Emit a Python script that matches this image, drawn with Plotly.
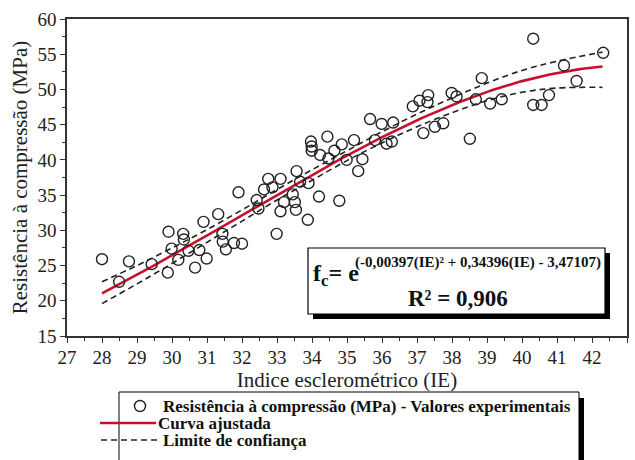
import numpy as np
import plotly.graph_objects as go

# Experimental values: rebound index (IE) and compressive strength (MPa)
ie_exp = [28.0, 28.49, 28.77, 29.42, 29.88, 29.9, 29.99, 30.18, 30.32, 30.34, 30.47,
          30.66, 30.78, 30.9, 30.99, 31.32, 31.44, 31.45, 31.54, 31.77, 31.9, 32.0,
          32.42, 32.47, 32.63, 32.75, 32.87, 32.99, 33.1, 33.1, 33.2, 33.45, 33.51,
          33.54, 33.56, 33.66, 33.88, 33.9, 33.97, 33.99, 33.99, 34.2, 34.23, 34.44,
          34.47, 34.64, 34.78, 34.85, 34.99, 35.2, 35.32, 35.44, 35.66, 35.8, 35.99,
          36.13, 36.28, 36.32, 36.88, 37.07, 37.18, 37.3, 37.32, 37.51, 37.75, 37.99,
          38.13, 38.51, 38.68, 38.85, 39.09, 39.42, 40.32, 40.32, 40.56, 40.77, 41.2,
          41.56, 42.32]
fc_exp = [25.9, 22.7, 25.6, 25.2, 24.0, 29.8, 27.4, 25.8, 29.5, 28.7, 27.1,
          24.7, 27.2, 31.2, 26.0, 32.3, 29.5, 28.4, 27.3, 28.2, 35.4, 28.1,
          34.3, 33.1, 35.8, 37.3, 36.1, 29.5, 37.3, 32.7, 34.0, 35.1, 34.0,
          32.9, 38.4, 36.9, 31.5, 36.7, 42.6, 41.9, 41.3, 34.8, 40.7, 43.3,
          40.2, 41.3, 34.2, 42.2, 40.0, 42.8, 38.4, 40.1, 45.8, 42.8, 45.1,
          42.3, 42.6, 45.3, 47.6, 48.4, 43.8, 48.2, 49.2, 44.7, 45.2, 49.5,
          49.0, 43.0, 48.6, 51.6, 48.0, 48.6, 47.8, 57.2, 47.8, 49.2, 53.4,
          51.2, 55.2]

# Fitted model coefficients: fc = exp(a*IE^2 + b*IE + c)
coef_a, coef_b, coef_c = -0.00397, 0.34396, -3.47107

# Confidence limits
ie_band = [28, 29, 30, 31, 32, 33, 34, 35, 36, 37, 38, 39, 40, 41, 42.3]
band_upper = [22.7, 25.0, 27.5, 30.1, 32.9, 35.8, 38.6, 41.3, 44.0, 46.5,
              48.8, 50.9, 52.7, 54.0, 55.3]
band_lower = [19.6, 22.4, 25.3, 28.3, 31.3, 34.3, 37.1, 39.9, 42.4, 44.7,
              46.7, 48.4, 49.6, 50.2, 50.3]

# Legend labels
legend_labels = ["Resistência à compressão (MPa) - Valores experimentais",
                 "Curva ajustada",
                 "Limite de confiança"]

ie_fit = np.linspace(28, 42.3, 200)
fc_fit = np.exp(coef_a * ie_fit ** 2 + coef_b * ie_fit + coef_c)

SERIF = "Times New Roman, Liberation Serif, Times, serif"
RED = "#c8102e"
INK = "#222222"
DASH = "6px,4px"

fig = go.Figure()
fig.add_trace(go.Scatter(
    x=ie_band, y=band_upper, mode="lines", name=legend_labels[2],
    line=dict(color=INK, width=1.6, dash=DASH), line_shape="spline"))
fig.add_trace(go.Scatter(
    x=ie_band, y=band_lower, mode="lines", name=legend_labels[2],
    line=dict(color=INK, width=1.6, dash=DASH), line_shape="spline"))
fig.add_trace(go.Scatter(
    x=ie_fit, y=fc_fit, mode="lines", name=legend_labels[1],
    line=dict(color=RED, width=2.6)))
fig.add_trace(go.Scatter(
    x=ie_exp, y=fc_exp, mode="markers", name=legend_labels[0],
    marker=dict(symbol="circle-open", size=11, color=INK,
                line=dict(width=1.4, color=INK))))

axis_common = dict(
    showline=True, linecolor="#333333", linewidth=1.5, mirror=True,
    ticks="outside", ticklen=5, tickwidth=1.3, tickcolor="#333333",
    showgrid=False, zeroline=False, automargin=False,
    tickfont=dict(family=SERIF, size=19, color=INK),
)

fig.update_xaxes(
    range=[27, 43], tickmode="linear", tick0=27, dtick=1,
    minor=dict(dtick=0.5, ticks="outside", ticklen=3, tickcolor="#333333"),
    ticklabelstandoff=-2,
    title=dict(text="Indice esclerométrico (IE)",
               font=dict(family=SERIF, size=21, color=INK), standoff=2),
    **axis_common)
fig.update_yaxes(
    range=[15, 60], tickmode="linear", tick0=15, dtick=5,
    minor=dict(dtick=2.5, ticks="outside", ticklen=3, tickcolor="#333333"),
    title=dict(text="Resistência à compressão (MPa)",
               font=dict(family=SERIF, size=21, color=INK), standoff=4),
    **axis_common)

# Plot area in pixels, used to place the boxes in paper units
PL, PR, PT, PB = 67, 627, 19, 336
def px(x):
    return (x - PL) / (PR - PL)
def py(y):
    return (PB - y) / (PB - PT)

# Equation box with drop shadow
fig.add_shape(type="rect", xref="paper", yref="paper",
              x0=px(313), x1=px(610), y0=py(319), y1=py(253),
              fillcolor="black", line=dict(width=0), layer="above")
fig.add_shape(type="rect", xref="paper", yref="paper",
              x0=px(308), x1=px(605), y0=py(314), y1=py(248),
              fillcolor="white", line=dict(color="black", width=1.2), layer="above")

fig.add_annotation(xref="paper", yref="paper", x=px(311), y=py(275),
                   xanchor="left", yanchor="middle", showarrow=False,
                   text="<b>f<sub>c</sub>= e</b>",
                   font=dict(family=SERIF, size=24, color="#111111"))
fig.add_annotation(xref="paper", yref="paper", x=px(353), y=py(262),
                   xanchor="left", yanchor="middle", showarrow=False,
                   text="<b>(-0,00397(IE)² + 0,34396(IE) - 3,47107)</b>",
                   font=dict(family=SERIF, size=15, color="#111111"))
fig.add_annotation(xref="paper", yref="paper", x=px(458), y=py(298),
                   xanchor="center", yanchor="middle", showarrow=False,
                   text="<b>R² = 0,906</b>",
                   font=dict(family=SERIF, size=23, color="#111111"))

# Legend box below the axes, with shadow on its right side
fig.add_shape(type="rect", xref="paper", yref="paper",
              x0=px(123), x1=px(584), y0=py(480), y1=py(398),
              fillcolor="black", line=dict(width=0))
fig.add_shape(type="rect", xref="paper", yref="paper",
              x0=px(119), x1=px(579), y0=py(475), y1=py(392),
              fillcolor="white", line=dict(color="black", width=1))
fig.add_shape(type="circle", xref="paper", yref="paper",
              x0=px(134.5), x1=px(145.5), y0=py(411.5), y1=py(400.5),
              line=dict(color=INK, width=1.4))
fig.add_shape(type="line", xref="paper", yref="paper",
              x0=px(100), x1=px(156), y0=py(423), y1=py(423),
              line=dict(color=RED, width=2.6))
fig.add_shape(type="line", xref="paper", yref="paper",
              x0=px(101), x1=px(161), y0=py(440), y1=py(440),
              line=dict(color=INK, width=1.6, dash=DASH))
for label, lx, ly in zip(legend_labels, [161, 156, 161], [406, 423, 440]):
    fig.add_annotation(xref="paper", yref="paper", x=px(lx), y=py(ly),
                       xanchor="left", yanchor="middle", showarrow=False,
                       text=f"<b>{label}</b>",
                       font=dict(family=SERIF, size=17, color="#111111"))

fig.update_layout(
    width=635, height=460, showlegend=False,
    margin=dict(l=PL, r=635 - PR, t=PT, b=460 - PB, autoexpand=False),
    paper_bgcolor="white", plot_bgcolor="white",
)

fig.write_html("out.html")
